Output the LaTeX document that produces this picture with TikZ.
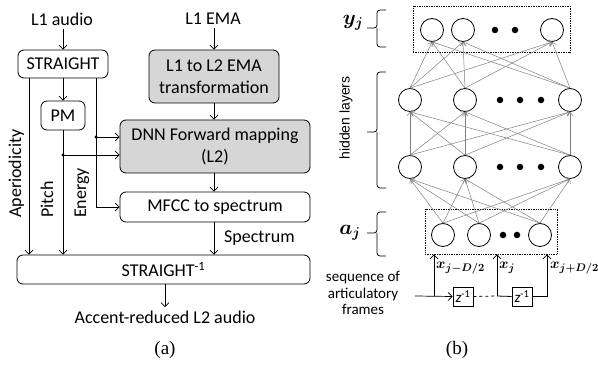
\documentclass[tikz,border=0pt]{standalone}
\usepackage{fontspec}
\usepackage{amsmath}
\setmainfont{Carlito}
\newfontfamily\arialfont{Liberation Sans}
\newfontfamily\timesfont{Liberation Serif}
\usetikzlibrary{arrows.meta}

\begin{document}
\begin{tikzpicture}[x=1pt,y=-1pt,
  lbl/.style={font=\fontsize{18}{22}\selectfont},
  blk/.style={draw,rounded corners=6pt,line width=0.8pt,inner sep=0pt,lbl,align=center},
  shaded/.style={fill=black!16},
  arr/.style={-{Straight Barb[length=4pt,width=8pt]},line width=0.7pt},
  side/.style={lbl,rotate=90,anchor=base west,inner sep=0pt},
  neuron/.style={draw,circle,minimum size=23pt,inner sep=0pt,line width=0.8pt},
  ndot/.style={fill,circle,minimum size=6.5pt,inner sep=0pt},
  conn/.style={draw=black!50,line width=0.5pt,-{Straight Barb[length=3.5pt,width=6pt]}},
  layerbox/.style={draw,densely dotted,line width=0.7pt,inner sep=0pt},
  zbox/.style={draw,line width=0.8pt,minimum width=20pt,minimum height=19pt,inner sep=0pt,
    font=\fontsize{15}{17}\selectfont},
  captext/.style={font=\timesfont\fontsize{19}{22}\selectfont},
  vlabel/.style={anchor=west,inner sep=0pt,font=\fontsize{15.5}{18}\selectfont},
  brace/.style={line width=0.8pt,rounded corners=3pt}
]
\useasboundingbox (0,0) rectangle (598,374);

% ---------------- (a) conversion pipeline ----------------
\node[lbl] (l1audio) at (62,19) {L1 audio};
\node[lbl] (l1ema) at (213,19) {L1 EMA};
\node[blk,minimum width=90pt,minimum height=28pt] (straight) at (63,64) {STRAIGHT};
\node[blk,shaded,minimum width=130pt,minimum height=53pt] (ema) at (214,76.5) {L1 to L2 EMA\\transformation};
\node[blk,minimum width=44pt,minimum height=29pt] (pm) at (63,115.5) {PM};
\node[blk,shaded,minimum width=190pt,minimum height=53pt] (dnn) at (215,146.5) {DNN Forward mapping\\(L2)};
\node[blk,minimum width=190pt,minimum height=30pt] (mfcc) at (215,207) {MFCC to spectrum};
\node[blk,minimum width=293pt,minimum height=29pt] (inv) at (163.5,269.5) {STRAIGHT\textsuperscript{-1}};
\node[lbl] (out) at (165,317) {Accent-reduced L2 audio};
\node[captext] (capa) at (165,350) {(a)};

\draw[arr] (l1audio.south -| straight) -- (straight.north);
\draw[arr] (l1ema.south -| ema) -- (ema.north);
\draw[arr] (straight.south) -- (pm.north);
\draw[arr] (ema.south) -- (ema.south |- dnn.north);
\draw[arr] (dnn.south -| ema) -- (mfcc.north -| ema);
\draw[arr] (mfcc.south -| ema) -- (inv.north -| ema);
\node[lbl,anchor=west,inner sep=0pt] (spec) at (224,238) {Spectrum};
\draw[arr] (inv.south -| out) -- (out.north);

% side streams from STRAIGHT
\coordinate (apx) at (29,0);
\coordinate (enx) at (96,0);
\draw[arr] (straight.south -| apx) -- (inv.north -| apx);
\draw[arr] (pm.south) -- (inv.north -| pm);
\draw[arr] (straight.south -| enx) |- (mfcc.west);
\coordinate (edot) at (96,137);
\coordinate (pdot) at (63,155);
\fill (edot) circle (1.7pt);
\fill (pdot) circle (1.7pt);
\draw[arr] (edot) -- (edot -| dnn.west);
\draw[arr] (pdot) -- (pdot -| dnn.west);
\node[side] (aptext) at (21,218) {Aperiodicity};
\node[side] (pitext) at (53,218) {Pitch};
\node[side] (entext) at (86,218) {Energy};

% ---------------- (b) network ----------------
\node[layerbox,minimum width=157pt,minimum height=46pt] (outbox) at (491.5,29) {};
\node[layerbox,minimum width=132pt,minimum height=45pt] (inbox) at (491,231.5) {};

\node[neuron] (o1) at (432,30) {};
\node[neuron] (o2) at (463,30) {};
\node[neuron] (o3) at (552,30) {};
\node[ndot] (od1) at (495,30) {};
\node[ndot] (od2) at (515,30) {};

\node[neuron] (h11) at (410,100) {};
\node[neuron] (h12) at (465,100) {};
\node[neuron] (h13) at (570,100) {};
\node[ndot] (hd11) at (500,100) {};
\node[ndot] (hd12) at (520,100) {};
\node[ndot] (hd13) at (541,100) {};

\node[neuron] (h21) at (410,167) {};
\node[neuron] (h22) at (465,167) {};
\node[neuron] (h23) at (570,167) {};
\node[ndot] (hd21) at (500,167) {};
\node[ndot] (hd22) at (520,167) {};
\node[ndot] (hd23) at (541,167) {};

\node[neuron] (i1) at (443,235) {};
\node[neuron] (i2) at (479,235) {};
\node[neuron] (i3) at (540,235) {};
\node[ndot] (id1) at (503,235) {};
\node[ndot] (id2) at (517,235) {};

\foreach \s in {h11,h12,h13}
  \foreach \t in {o1,o2,o3}
    \draw[conn] (\s.north) -- (\t.south);
\foreach \s in {h21,h22,h23}
  \foreach \t in {h11,h12,h13}
    \draw[conn] (\s.north) -- (\t.south);
\foreach \s in {i1,i2,i3}
  \foreach \t in {h21,h22,h23}
    \draw[conn] (\s.north) -- (\t.south);

% braces and layer labels
\draw[brace] (386,10) -- (377,10) -- (377,28) -- (367,28);
\draw[brace] (386,47) -- (377,47) -- (377,28);
\draw[brace] (386,72) -- (377,72) -- (377,132) -- (367,132);
\draw[brace] (386,188) -- (377,188) -- (377,132);
\draw[brace] (386,212) -- (377,212) -- (377,233) -- (367,233);
\draw[brace] (386,256) -- (377,256) -- (377,233);
\node[font=\fontsize{21}{24}\selectfont] (ylab) at (353,23) {$\boldsymbol{y_j}$};
\node[font=\fontsize{21}{24}\selectfont] (alab) at (350,233) {$\boldsymbol{a_j}$};
\node[font=\arialfont\fontsize{14}{16}\selectfont,rotate=90] (hid) at (346,118) {hidden layers};

% tapped delay line feeding the input layer
\coordinate (tin) at (415,296);
\node[zbox] (z1) at (463,296.5) {\itshape z\textsuperscript{\upshape -1}};
\node[zbox] (z2) at (522,296.5) {\itshape z\textsuperscript{\upshape -1}};
\coordinate (tap1) at (434,296);
\coordinate (tap2) at (497,296);
\coordinate (tap3) at (547,296);
\draw[arr] (tin) -- (z1.west);
\draw[arr] (tap1) -- (tap1 |- inbox.south);
\draw[line width=0.8pt,dashed] (z1.east) -- (tap2);
\draw[line width=0.8pt] (tap2) -- (z2.west);
\draw[arr] (tap2) -- (tap2 |- inbox.south);
\draw[arr] (z2.east) -| (tap3 |- inbox.south);
\node[vlabel] (x1) at (436,268) {$\boldsymbol{x_{j{-}D/2}}$};
\node[vlabel] (x2) at (499,268) {$\boldsymbol{x_{j}}$};
\node[vlabel] (x3) at (550,268) {$\boldsymbol{x_{j{+}D/2}}$};
\node[align=center,font=\fontsize{15}{16.5}\selectfont] (seq) at (363,293) {sequence of\\articulatory\\frames};

\node[captext] (capb) at (457,350) {(b)};
\end{tikzpicture}
\end{document}
